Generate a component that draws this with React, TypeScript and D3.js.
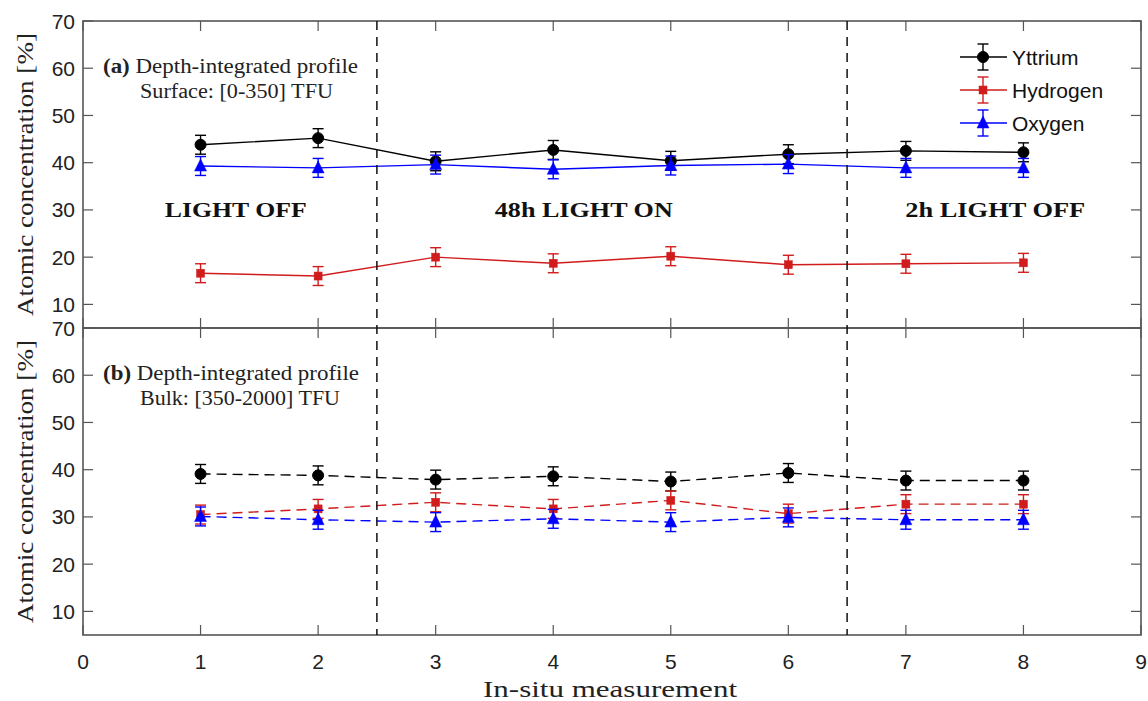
import React from "react";
import * as d3 from "d3";

const measurements = [1, 2, 3, 4, 5, 6, 7, 8];
const seriesNames = ["Yttrium", "Hydrogen", "Oxygen"];
const seriesColors = ["#000000", "#d01c1c", "#0000ff"];
const seriesMarkers = ["circle", "square", "triangle"];

// Panel (a): surface
const surfYttrium = [43.8, 45.2, 40.3, 42.7, 40.4, 41.8, 42.5, 42.2];
const surfHydrogen = [16.6, 16.0, 20.0, 18.7, 20.2, 18.4, 18.6, 18.8];
const surfOxygen = [39.3, 38.9, 39.6, 38.6, 39.4, 39.7, 38.9, 38.9];
const surfErr = [2.0, 2.0, 2.0];

// Panel (b): bulk
const bulkYttrium = [39.1, 38.8, 37.9, 38.6, 37.5, 39.3, 37.7, 37.7];
const bulkHydrogen = [30.5, 31.7, 33.1, 31.7, 33.5, 30.7, 32.7, 32.7];
const bulkOxygen = [30.1, 29.4, 28.9, 29.6, 28.9, 29.9, 29.4, 29.4];
const bulkErr = [2.0, 2.0, 2.0];

const xTicks = [0, 1, 2, 3, 4, 5, 6, 7, 8, 9];
const yTicks = [10, 20, 30, 40, 50, 60, 70];
const phaseBoundaries = [2.5, 6.5];
const phaseLabels = ["LIGHT OFF", "48h LIGHT ON", "2h LIGHT OFF"];
const phaseLabelX = [1.3, 4.26, 7.76];

const SERIF = "'Liberation Serif', 'Times New Roman', serif";
const SANS = "'Liberation Sans', Arial, Helvetica, sans-serif";
const AXIS = "#555555";

function Marker({ type, cx, cy, color }: { type: string; cx: number; cy: number; color: string }) {
  if (type === "circle") return <circle cx={cx} cy={cy} r={5.5} fill={color} stroke={color} strokeWidth={1} />;
  if (type === "square") return <rect x={cx - 4} y={cy - 4} width={8} height={8} fill={color} stroke={color} strokeWidth={0.5} />;
  const s = 6;
  return (
    <path
      d={`M${cx},${cy - s - 1} L${cx + s},${cy + s - 1} L${cx - s},${cy + s - 1} Z`}
      fill={color}
      stroke={color}
      strokeWidth={0.5}
    />
  );
}

export default function App() {
  const W = 1148;
  const H = 701;
  const x = d3.scaleLinear().domain([0, 9]).range([83, 1141]);
  const yTop = d3.scaleLinear().domain([5, 70]).range([328, 21]);
  const yBot = d3.scaleLinear().domain([5, 70]).range([635, 328]);

  const panels = [
    { y: yTop, data: [surfYttrium, surfHydrogen, surfOxygen], err: surfErr, dash: undefined as string | undefined, label: "(a)", l1: "Depth-integrated profile", l2: "Surface:  [0-350]  TFU", w1: 255, w2: 193 },
    { y: yBot, data: [bulkYttrium, bulkHydrogen, bulkOxygen], err: bulkErr, dash: "10,6", label: "(b)", l1: "Depth-integrated profile", l2: "Bulk:  [350-2000]  TFU", w1: 256, w2: 200 },
  ];

  const x0 = x(0);
  const x1 = x(9);
  const tl = 10;

  return (
    <svg width={W} height={H} style={{ position: "absolute", left: 0, top: 0, background: "#fff" }}>
      <rect x={0} y={0} width={W} height={H} fill="#fff" />
      {panels.map((p, pi) => {
        const top = p.y(70);
        const bot = p.y(5);
        const line = d3
          .line<number>()
          .x((_, i) => x(measurements[i]))
          .y((d) => p.y(d));
        return (
          <g key={pi}>
            {yTicks.map((t) => (
              <g key={t}>
                <line x1={x0} x2={x0 + tl} y1={p.y(t)} y2={p.y(t)} stroke={AXIS} strokeWidth={1.2} />
                <line x1={x1} x2={x1 - tl} y1={p.y(t)} y2={p.y(t)} stroke={AXIS} strokeWidth={1.2} />
                <text x={75} y={p.y(t)} dy="0.36em" textAnchor="end" fontFamily={SANS} fontSize={21} fill="#222">
                  {t}
                </text>
              </g>
            ))}
            {xTicks.map((t) => (
              <g key={t}>
                <line x1={x(t)} x2={x(t)} y1={top} y2={top + tl} stroke={AXIS} strokeWidth={1.2} />
                <line x1={x(t)} x2={x(t)} y1={bot} y2={bot - tl} stroke={AXIS} strokeWidth={1.2} />
              </g>
            ))}
            <text
              transform={`translate(33,${(top + bot) / 2 + 0}) rotate(-90)`}
              textAnchor="middle"
              fontFamily={SERIF}
              fontSize={24}
              fill="#222"
              textLength={283}
              lengthAdjust="spacingAndGlyphs"
            >
              Atomic concentration [%]
            </text>
            <text x={103} y={top + 52} fontFamily={SERIF} fontSize={20} fill="#222" textLength={p.w1} lengthAdjust="spacingAndGlyphs">
              <tspan fontWeight="bold">{p.label}</tspan>
              <tspan> {p.l1}</tspan>
            </text>
            <text x={140} y={top + 77} fontFamily={SERIF} fontSize={20} fill="#222" textLength={p.w2} lengthAdjust="spacingAndGlyphs">
              {p.l2}
            </text>
            {p.data.map((vals, si) => (
              <g key={si}>
                <path d={line(vals) || ""} fill="none" stroke={seriesColors[si]} strokeWidth={1.4} strokeDasharray={p.dash} />
                {vals.map((v, i) => {
                  const cx = x(measurements[i]);
                  const yt = p.y(v + p.err[si]);
                  const yb = p.y(v - p.err[si]);
                  return (
                    <g key={i} stroke={seriesColors[si]} strokeWidth={1.4}>
                      <line x1={cx} x2={cx} y1={yt} y2={yb} />
                      <line x1={cx - 5.5} x2={cx + 5.5} y1={yt} y2={yt} />
                      <line x1={cx - 5.5} x2={cx + 5.5} y1={yb} y2={yb} />
                    </g>
                  );
                })}
                {vals.map((v, i) => (
                  <Marker key={i} type={seriesMarkers[si]} cx={x(measurements[i])} cy={p.y(v)} color={seriesColors[si]} />
                ))}
              </g>
            ))}
            <rect x={x0} y={top} width={x1 - x0} height={bot - top} fill="none" stroke={AXIS} strokeWidth={1.6} />
          </g>
        );
      })}

      {phaseLabels.map((l, i) => (
        <text
          key={l}
          x={x(phaseLabelX[i])}
          y={yTop(30) + 7}
          textAnchor="middle"
          fontFamily={SERIF}
          fontWeight="bold"
          fontSize={22}
          fill="#111"
          textLength={[142, 178, 180][i]}
          lengthAdjust="spacingAndGlyphs"
        >
          {l}
        </text>
      ))}

      {phaseBoundaries.map((b) => (
        <line key={b} x1={x(b)} x2={x(b)} y1={yTop(70)} y2={yBot(5)} stroke="#111" strokeWidth={1.5} strokeDasharray="9,7" />
      ))}

      {xTicks.map((t) => (
        <text key={t} x={x(t)} y={669} textAnchor="middle" fontFamily={SANS} fontSize={21} fill="#222">
          {t}
        </text>
      ))}
      <text
        x={610}
        y={697}
        textAnchor="middle"
        fontFamily={SERIF}
        fontSize={24}
        fill="#222"
        textLength={254}
        lengthAdjust="spacingAndGlyphs"
      >
        In-situ measurement
      </text>

      {seriesNames.map((n, i) => {
        const ly = 57 + i * 33;
        const lx0 = 960;
        const lx1 = 1007;
        const mx = 983;
        return (
          <g key={n}>
            <g stroke={seriesColors[i]} strokeWidth={1.4}>
              <line x1={lx0} x2={lx1} y1={ly} y2={ly} />
              <line x1={mx} x2={mx} y1={ly - 13} y2={ly + 13} />
              <line x1={mx - 5.5} x2={mx + 5.5} y1={ly - 13} y2={ly - 13} />
              <line x1={mx - 5.5} x2={mx + 5.5} y1={ly + 13} y2={ly + 13} />
            </g>
            <Marker type={seriesMarkers[i]} cx={mx} cy={ly} color={seriesColors[i]} />
            <text x={1012} y={ly} dy="0.36em" fontFamily={SANS} fontSize={21} fill="#111">
              {n}
            </text>
          </g>
        );
      })}
    </svg>
  );
}
